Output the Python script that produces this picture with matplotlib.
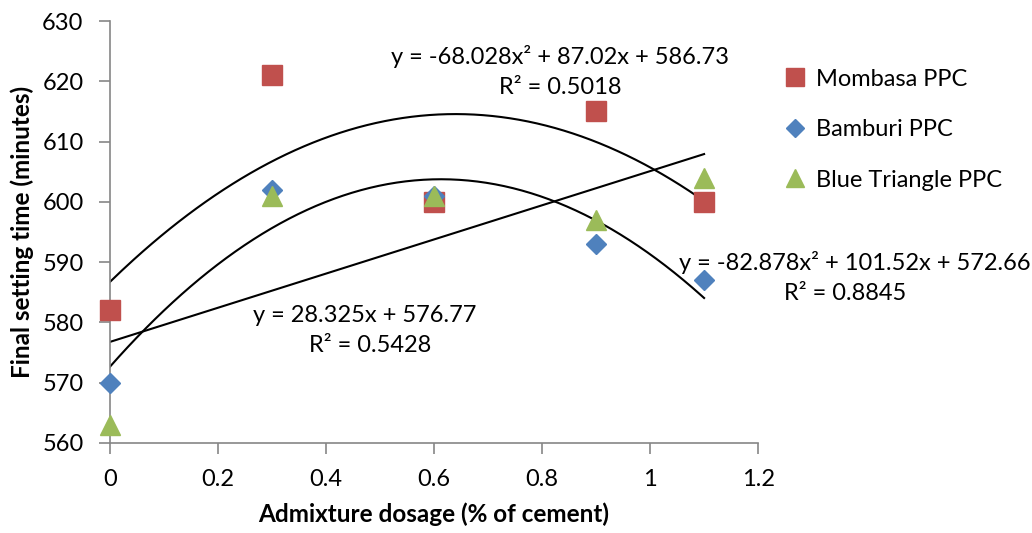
import numpy as np
import matplotlib
matplotlib.use("Agg")
import matplotlib.pyplot as plt

plt.rcParams['font.family'] = ['Lato', 'DejaVu Sans']

dosage = [0, 0.3, 0.6, 0.9, 1.1]
mombasa = [582, 621, 600, 615, 600]
bamburi = [570, 602, 601, 593, 587]
blue_triangle = [563, 601, 601, 597, 604]

mombasa_fit = [-68.028, 87.02, 586.73]
bamburi_fit = [-82.878, 101.52, 572.66]
bt_fit = [28.325, 576.77]

fig = plt.figure(figsize=(10.32, 5.33), dpi=100)
ax = fig.add_axes([0.1066, 0.1689, 0.628, 0.7917])

xx = np.linspace(0, 1.1, 200)
for c in (mombasa_fit, bamburi_fit, bt_fit):
    ax.plot(xx, np.polyval(c, xx), color='black', lw=1.5, zorder=2)

ax.plot(dosage, mombasa, 's', color='#C0504D', ms=14, ls='none', zorder=3, clip_on=False, label='Mombasa PPC')
ax.plot(dosage, bamburi, 'D', color='#4F81BD', ms=10, ls='none', zorder=4, clip_on=False, label='Bamburi PPC')
ax.plot(dosage, blue_triangle, '^', color='#9BBB59', ms=14, ls='none', zorder=5, clip_on=False, label='Blue Triangle PPC')

ax.set_xlim(0, 1.2)
ax.set_ylim(560, 630)
ax.set_xticks([0, 0.2, 0.4, 0.6, 0.8, 1.0, 1.2])
ax.set_xticklabels(['0', '0.2', '0.4', '0.6', '0.8', '1', '1.2'])
ax.set_yticks(range(560, 631, 10))
for s in ('top', 'right'):
    ax.spines[s].set_visible(False)
for s in ('left', 'bottom'):
    ax.spines[s].set_color('#868686')
    ax.spines[s].set_linewidth(1.2)
ax.tick_params(axis='both', colors='#868686', length=8, width=1.2, labelsize=17, labelcolor='black', direction='out')
ax.tick_params(axis='x', pad=11)
ax.tick_params(axis='y', pad=11)

ax.set_xlabel('Admixture dosage (% of cement)', fontsize=17.5, fontweight='bold', labelpad=9)
ax.set_ylabel('Final setting time (minutes)', fontsize=17.5, fontweight='bold', labelpad=6)

tkw = dict(fontsize=17, ha='center', va='center', transform=fig.transFigure)
fig.text(560/1032, 1-57/533, 'y = -68.028x² + 87.02x + 586.73', **tkw)
fig.text(560/1032, 1-88/533, 'R² = 0.5018', **tkw)
fig.text(855/1032, 1-262/533, 'y = -82.878x² + 101.52x + 572.66', **tkw)
fig.text(845/1032, 1-293/533, 'R² = 0.8845', **tkw)
fig.text(365/1032, 1-315/533, 'y = 28.325x + 576.77', **tkw)
fig.text(370/1032, 1-345/533, 'R² = 0.5428', **tkw)

leg = ax.legend(loc='upper left', bbox_to_anchor=(782/1032, 1-64/533), bbox_transform=fig.transFigure,
                frameon=False, fontsize=17, handlelength=0.7, handletextpad=0.55, labelspacing=1.25,
                markerscale=0.9, borderaxespad=0, borderpad=0.2)

fig.savefig('out.png', dpi=100)
